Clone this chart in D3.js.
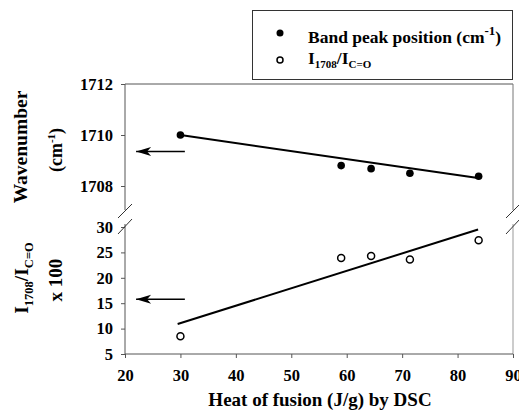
<!DOCTYPE html>
<html><head><meta charset="utf-8">
<script src="https://cdn.jsdelivr.net/npm/d3@7"></script>
<style>
html,body{margin:0;padding:0;background:#fff;}
</style></head>
<body><svg id="c" width="519" height="416" style="font-family:'Liberation Serif','Times New Roman','DejaVu Serif',serif"></svg>
<script>
// data
const heat = [30, 59, 64.4, 71.4, 83.8];
const bandPeak = [1710.0, 1708.8, 1708.68, 1708.5, 1708.38];
const ratio = [8.5, 23.9, 24.3, 23.6, 27.4];
const fitPeak = [[30, 1710.0], [84, 1708.3]];
const fitRatio = [[29.5, 10.9], [83.7, 29.5]];
const arrowPeak = [[30.8, 1709.35], [22, 1709.35]];
const arrowRatio = [[30.8, 15.8], [22, 15.8]];
const xTicks = [20, 30, 40, 50, 60, 70, 80, 90];
const yUpTicks = [1708, 1710, 1712];
const yLowTicks = [5, 10, 15, 20, 25, 30];

const FONT = "'Liberation Serif','Times New Roman','DejaVu Serif',serif";
const svg = d3.select("#c");
const L = 125, R = 513, T = 84, B = 354;
const x = d3.scaleLinear().domain([20, 90]).range([L, R]);
const yU = d3.scaleLinear().domain([1708, 1712]).range([186, T]);
const yL = d3.scaleLinear().domain([5, 30]).range([B, 227]);

const upBreak = 210, lowBreak = 224;

// frame lines
const g = svg.append("g");
g.append("line").attr("x1", L).attr("x2", R).attr("y1", T).attr("y2", T).attr("stroke", "#555").attr("stroke-width", 1);
g.append("line").attr("x1", R).attr("x2", R).attr("y1", T).attr("y2", upBreak).attr("stroke", "#777").attr("stroke-width", 1);
g.append("line").attr("x1", R).attr("x2", R).attr("y1", lowBreak).attr("y2", B).attr("stroke", "#999").attr("stroke-width", 1);

function styleAxis(a, dom) {
  a.attr("font-family", FONT).attr("font-size", 16.5).attr("font-weight", "bold");
  a.select(".domain").attr("stroke", "#555").attr("d", dom);
  a.selectAll(".tick line").attr("stroke", "#555");
  a.selectAll("text").attr("fill", "#000").attr("font-family", FONT);
}
// x axis
const xa = svg.append("g").attr("transform", `translate(0,${B})`)
  .call(d3.axisBottom(x).tickValues(xTicks).tickSize(4).tickPadding(11).tickFormat(d3.format("d")));
styleAxis(xa, `M${L},0H${R}`);

// upper y axis
const ya = svg.append("g").attr("transform", `translate(${L},0)`)
  .call(d3.axisLeft(yU).tickValues(yUpTicks).tickSize(4).tickPadding(8).tickFormat(d3.format("d")));
styleAxis(ya, `M0,${T}V${upBreak}`);

// lower y axis
const yb = svg.append("g").attr("transform", `translate(${L},0)`)
  .call(d3.axisLeft(yL).tickValues(yLowTicks).tickSize(4).tickPadding(8).tickFormat(d3.format("d")));
styleAxis(yb, `M0,${lowBreak}V${B}`);

// break marks
[L, R].forEach(cx => {
  [[-7, 218, 7, 204], [-7, 234, 7, 219]].forEach(s => {
    svg.append("line").attr("x1", cx + s[0]).attr("y1", s[1]).attr("x2", cx + s[2]).attr("y2", s[3])
      .attr("stroke", "#333").attr("stroke-width", 1);
  });
});

// fit lines
const lineU = d3.line().x(d => x(d[0])).y(d => yU(d[1]));
const lineL = d3.line().x(d => x(d[0])).y(d => yL(d[1]));
svg.append("path").attr("d", lineU(fitPeak)).attr("stroke", "#000").attr("stroke-width", 2).attr("fill", "none");
svg.append("path").attr("d", lineL(fitRatio)).attr("stroke", "#000").attr("stroke-width", 2).attr("fill", "none");

// arrows
svg.append("path").attr("d", lineU(arrowPeak)).attr("stroke", "#000").attr("stroke-width", 1.5).attr("fill", "none");
svg.append("path").attr("d", lineL(arrowRatio)).attr("stroke", "#000").attr("stroke-width", 1.5).attr("fill", "none");
function head(px, py) {
  svg.append("path").attr("d", `M${px},${py}L${px + 15},${py - 4.5}L${px + 11},${py}L${px + 15},${py + 4.5}Z`).attr("fill", "#000");
}
head(x(arrowPeak[1][0]), yU(arrowPeak[1][1]));
head(x(arrowRatio[1][0]), yL(arrowRatio[1][1]));

// points
svg.selectAll(".fp").data(heat).enter().append("circle")
  .attr("cx", d => x(d)).attr("cy", (d, i) => yU(bandPeak[i])).attr("r", 3.8).attr("fill", "#000");
svg.selectAll(".op").data(heat).enter().append("circle")
  .attr("cx", d => x(d)).attr("cy", (d, i) => yL(ratio[i])).attr("r", 3.5)
  .attr("fill", "#fff").attr("stroke", "#000").attr("stroke-width", 1.5);

// axis titles
function T_(sel) { return sel.attr("font-family", FONT).attr("font-weight", "bold").attr("fill", "#000"); }
T_(svg.append("text")).attr("x", 320).attr("y", 406).attr("text-anchor", "middle").attr("font-size", 19)
  .text("Heat of fusion (J/g) by DSC");

T_(svg.append("text")).attr("transform", "translate(27,147) rotate(-90)").attr("text-anchor", "middle").attr("font-size", 19.5)
  .text("Wavenumber");
const cm = T_(svg.append("text")).attr("transform", "translate(62,150) rotate(-90)").attr("text-anchor", "middle").attr("font-size", 18);
cm.append("tspan").text("(cm");
cm.append("tspan").attr("dy", -7).attr("font-size", 11).text("-1");
cm.append("tspan").attr("dy", 7).text(")");

const il = T_(svg.append("text")).attr("transform", "translate(28,278) rotate(-90)").attr("text-anchor", "middle").attr("font-size", 19.5);
il.append("tspan").text("I");
il.append("tspan").attr("dy", 5).attr("font-size", 12.5).text("1708");
il.append("tspan").attr("dy", -5).text("/I");
il.append("tspan").attr("dy", 5).attr("font-size", 12.5).text("C=O");
T_(svg.append("text")).attr("transform", "translate(62,280) rotate(-90)").attr("text-anchor", "middle").attr("font-size", 19)
  .text("x 100");

// legend
const lg = svg.append("g");
lg.append("rect").attr("x", 252.5).attr("y", 10.5).attr("width", 260).attr("height", 69)
  .attr("fill", "#fff").attr("stroke", "#333").attr("stroke-width", 1);
lg.append("circle").attr("cx", 280).attr("cy", 33).attr("r", 3.5).attr("fill", "#000");
lg.append("circle").attr("cx", 280).attr("cy", 60).attr("r", 3).attr("fill", "#fff").attr("stroke", "#000").attr("stroke-width", 1.5);
const t1 = T_(lg.append("text")).attr("x", 308).attr("y", 43).attr("font-size", 17.5);
t1.append("tspan").text("Band peak position (cm");
t1.append("tspan").attr("dy", -8).attr("font-size", 13).text("-1");
t1.append("tspan").attr("dy", 8).text(")");
const t2 = T_(lg.append("text")).attr("x", 308).attr("y", 64).attr("font-size", 17.5);
t2.append("tspan").text("I");
t2.append("tspan").attr("dy", 4).attr("font-size", 11).text("1708");
t2.append("tspan").attr("dy", -4).text("/I");
t2.append("tspan").attr("dy", 4).attr("font-size", 11).text("C=O");
</script></body></html>
